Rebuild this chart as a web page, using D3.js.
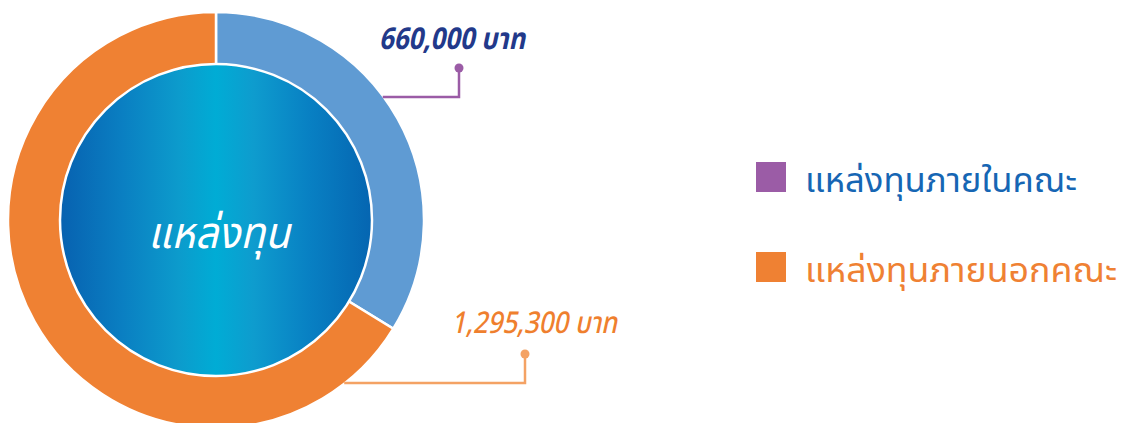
<!DOCTYPE html>
<html>
<head>
<meta charset="utf-8">
<script src="https://cdn.jsdelivr.net/npm/d3@7/dist/d3.min.js"></script>
<style>
  html, body { margin: 0; padding: 0; background: #ffffff; }
  svg { display: block; }
  text { font-family: "Noto Sans Thai", "Noto Sans", "DejaVu Sans", sans-serif; }
</style>
</head>
<body>
<svg id="chart" width="1124" height="423"></svg>
<script>
// ---- data ----
const categories = ["แหล่งทุนภายในคณะ", "แหล่งทุนภายนอกคณะ"];
const values = [660000, 1295300];
const valueLabels = ["660,000 บาท", "1,295,300 บาท"];
const centerTitle = "แหล่งทุน";

// ---- styles ----
const sliceColors = ["#5f9bd3", "#ef8133"];
const legendColors = ["#9b5ca6", "#ef8133"];
const legendTextColors = ["#1666b4", "#ef8133"];
const labelColors = ["#22398a", "#ef7f2e"];
const leaderColors = ["#9b5ca6", "#f4a264"];

const svg = d3.select("#chart");
const cx = 216, cy = 220;
const rOuter = 208, rInner = 155, rCore = 156;

const defs = svg.append("defs");
const grad = defs.append("linearGradient").attr("id", "coreGrad")
  .attr("x1", "0%").attr("x2", "100%").attr("y1", "0%").attr("y2", "0%");
[["0%", "#0761b0"], ["20%", "#0a7fc2"], ["38%", "#0c9bcc"], ["50%", "#00acd5"],
 ["62%", "#0e9cce"], ["80%", "#0880c3"], ["100%", "#0565b1"]]
  .forEach(([o, c]) => grad.append("stop").attr("offset", o).attr("stop-color", c));

const g = svg.append("g").attr("transform", `translate(${cx},${cy})`);

const pie = d3.pie().sort(null).value(d => d)(values);
const arc = d3.arc().innerRadius(rInner).outerRadius(rOuter);

g.selectAll("path.slice").data(pie).join("path")
  .attr("class", "slice")
  .attr("d", arc)
  .attr("fill", (d, i) => sliceColors[i])
  .attr("stroke", "#ffffff")
  .attr("stroke-width", 2.5);

g.append("circle").attr("r", rCore)
  .attr("fill", "url(#coreGrad)")
  .attr("stroke", "#ffffff").attr("stroke-width", 2.5);

g.append("text").text(centerTitle)
  .attr("x", -68).attr("y", 28)
  .attr("textLength", 142).attr("lengthAdjust", "spacingAndGlyphs")
  .attr("fill", "#ffffff")
  .attr("font-size", 44)
  .attr("font-style", "italic");

// ---- value labels with leader lines ----
const labelPos = [
  { tx: 379, ty: 49, len: 146, dotX: 459, dotY: 68, lineY: 97, size: 30, weight: 700 },
  { tx: 451, ty: 333, len: 166, dotX: 525, dotY: 354, lineY: 383, size: 30, weight: 500 }
];
labelPos.forEach((p, i) => {
  const dy = p.lineY - cy;
  const edgeX = cx + Math.sqrt(rOuter * rOuter - dy * dy) - 1;
  svg.append("path")
    .attr("d", `M${edgeX},${p.lineY} H${p.dotX} V${p.dotY}`)
    .attr("fill", "none")
    .attr("stroke", leaderColors[i])
    .attr("stroke-width", 2.5);
  svg.append("circle").attr("cx", p.dotX).attr("cy", p.dotY).attr("r", 4.5)
    .attr("fill", leaderColors[i]);
  svg.append("text").text(valueLabels[i])
    .attr("x", p.tx).attr("y", p.ty)
    .attr("textLength", p.len).attr("lengthAdjust", "spacingAndGlyphs")
    .attr("fill", labelColors[i])
    .attr("font-size", p.size)
    .attr("font-weight", p.weight)
    .attr("font-style", "italic");
});

// ---- legend ----
const legendLens = [272, 312];
const legend = svg.append("g").attr("transform", "translate(756,162)");
const lg = legend.selectAll("g").data(categories).join("g")
  .attr("transform", (d, i) => `translate(0,${i * 90})`);
lg.append("rect").attr("width", 30).attr("height", 30)
  .attr("fill", (d, i) => legendColors[i]);
lg.append("text").text(d => d)
  .attr("x", 49).attr("y", 30)
  .attr("textLength", (d, i) => legendLens[i]).attr("lengthAdjust", "spacingAndGlyphs")
  .attr("fill", (d, i) => legendTextColors[i])
  .attr("font-size", 34);
</script>
</body>
</html>
